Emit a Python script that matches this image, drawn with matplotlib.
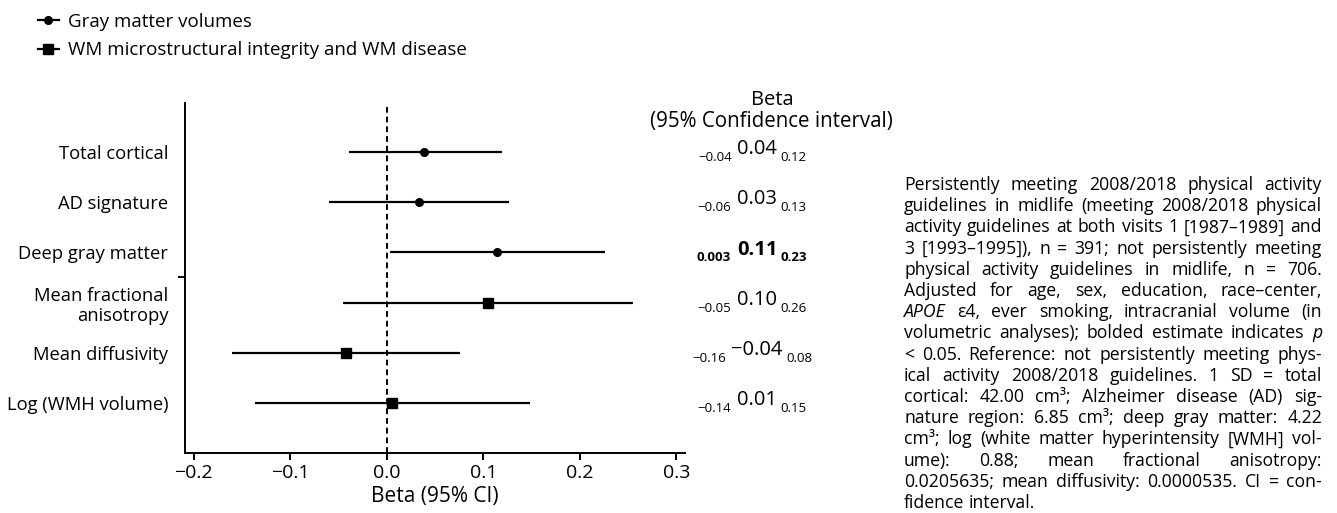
import matplotlib
matplotlib.use('Agg')
import matplotlib.pyplot as plt
from matplotlib.lines import Line2D
from matplotlib.transforms import blended_transform_factory

plt.rcParams['font.family'] = ['Open Sans', 'DejaVu Sans']

# data
labels = ['Total cortical', 'AD signature', 'Deep gray matter',
          'Mean fractional\nanisotropy', 'Mean diffusivity', 'Log (WMH volume)']
beta = [0.039, 0.033, 0.114, 0.105, -0.042, 0.005]
ci_low = [-0.039, -0.060, 0.003, -0.045, -0.160, -0.136]
ci_high = [0.119, 0.127, 0.226, 0.255, 0.076, 0.148]
group = ['gm', 'gm', 'gm', 'wm', 'wm', 'wm']
beta_txt = ['0.04', '0.03', '0.11', '0.10', '\u22120.04', '0.01']
low_txt = ['\u22120.04', '\u22120.06', '0.003', '\u22120.05', '\u22120.16', '\u22120.14']
high_txt = ['0.12', '0.13', '0.23', '0.26', '0.08', '0.15']
bold = [False, False, True, False, False, False]
xticks = [-0.2, -0.1, 0.0, 0.1, 0.2, 0.3]

note = [
    'Persistently meeting 2008/2018 physical activity',
    'guidelines in midlife (meeting 2008/2018 physical',
    'activity guidelines at both visits 1 [1987\u20131989] and',
    '3 [1993\u20131995]), n = 391; not persistently meeting',
    'physical activity guidelines in midlife, n = 706.',
    'Adjusted for age, sex, education, race\u2013center,',
    'APOE \u03b54, ever smoking, intracranial volume (in',
    'volumetric analyses); bolded estimate indicates p',
    '< 0.05. Reference: not persistently meeting phys-',
    'ical activity 2008/2018 guidelines. 1 SD = total',
    'cortical: 42.00 cm\u00b3; Alzheimer disease (AD) sig-',
    'nature region: 6.85 cm\u00b3; deep gray matter: 4.22',
    'cm\u00b3; log (white matter hyperintensity [WMH] vol-',
    'ume): 0.88; mean fractional anisotropy:',
    '0.0205635; mean diffusivity: 0.0000535. CI = con-',
    'fidence interval.',
]
italic_words = ['APOE', 'p']

W, H = 1337, 513
fig = plt.figure(figsize=(W / 100, H / 100), dpi=100)
ax = fig.add_axes([185 / W, 1 - 453 / H, 500 / W, 350 / H])

ypos = list(range(1, len(labels) + 1))
for i in range(len(labels)):
    ax.hlines(ypos[i], ci_low[i], ci_high[i], color='black', lw=1.6)
    if group[i] == 'gm':
        ax.plot(beta[i], ypos[i], 'o', color='black', ms=5.5)
    else:
        ax.plot(beta[i], ypos[i], 's', color='black', ms=6.8)
ax.axvline(0, color='black', lw=1.4, ls=(0, (3, 2)))

ax.set_xlim(-0.209, 0.309)
ax.set_ylim(7, 0.02)
ax.spines['top'].set_visible(False)
ax.spines['right'].set_visible(False)
ax.spines['left'].set_linewidth(1.4)
ax.spines['bottom'].set_linewidth(1.4)
ax.set_xticks(xticks)
ax.set_xticklabels(['%.1f' % v if v >= 0 else '\u2212%.1f' % abs(v) for v in xticks])
ax.tick_params(axis='x', length=5, width=1.4, labelsize=14, pad=3)
ax.set_yticks(ypos)
ax.set_yticklabels(labels, fontsize=13.2, linespacing=1.15)
ax.tick_params(axis='y', length=0, pad=12)
ax.set_yticks([3.5], minor=True)
ax.tick_params(axis='y', which='minor', length=5, width=1.4)
ax.set_xlabel('Beta (95% CI)', fontsize=15, labelpad=3)

# legend
handles = [Line2D([], [], color='black', lw=1.6, marker='o', ms=5.5),
           Line2D([], [], color='black', lw=1.6, marker='s', ms=6.5)]
fig.legend(handles, ['Gray matter volumes', 'WM microstructural integrity and WM disease'],
           loc='upper left', bbox_to_anchor=(21 / W, 1 + 4 / H), frameon=False,
           fontsize=13.5, handlelength=1.1, handletextpad=0.5, labelspacing=0.55)

# right column of estimates
fig.text(772 / W, 1 - 100 / H, 'Beta', ha='center', va='center', fontsize=14.5)
fig.text(771 / W, 1 - 121 / H, '(95% Confidence interval)', ha='center', va='center', fontsize=14.8)
trans = blended_transform_factory(fig.transFigure, ax.transData)
for i in range(len(labels)):
    w = 'bold' if bold[i] else 'normal'
    est = ax.annotate(beta_txt[i], xy=(757 / W, ypos[i]), xycoords=trans,
                      xytext=(0, -1.5), textcoords='offset points',
                      ha='center', va='baseline', fontsize=14.5, fontweight=w,
                      annotation_clip=False)
    ax.annotate(low_txt[i], xy=(0, ypos[i]), xycoords=(est, ax.transData),
                xytext=(-4, -6.5), textcoords='offset points',
                ha='right', va='baseline', fontsize=9.5, fontweight=w,
                annotation_clip=False)
    ax.annotate(high_txt[i], xy=(1, ypos[i]), xycoords=(est, ax.transData),
                xytext=(2.5, -6.5), textcoords='offset points',
                ha='left', va='baseline', fontsize=9.5, fontweight=w,
                annotation_clip=False)

# justified footnote block
renderer = fig.canvas.get_renderer()
left, right = 904, 1322
# font size chosen so the widest line just fits the block
probe = fig.text(0, 0, note[2], fontsize=10)
fs = 10 * (right - left) * 0.985 / probe.get_window_extent(renderer).width
probe.remove()
for k, line in enumerate(note):
    words = line.split(' ')
    arts = []
    widths = []
    for wd in words:
        st = 'italic' if wd in italic_words else 'normal'
        t = fig.text(0, 1 - (185 + k * 21.2) / H, wd, fontsize=fs, style=st,
                     ha='left', va='center')
        arts.append(t)
        widths.append(t.get_window_extent(renderer).width)
    if k < len(note) - 1 and len(words) > 1:
        gap = (right - left - sum(widths)) / (len(words) - 1)
    else:
        gap = fs * 1.39 * 0.26
    x = left
    for t, wpx in zip(arts, widths):
        t.set_x(x / W)
        x += wpx + gap

fig.savefig('out.png', dpi=100)
